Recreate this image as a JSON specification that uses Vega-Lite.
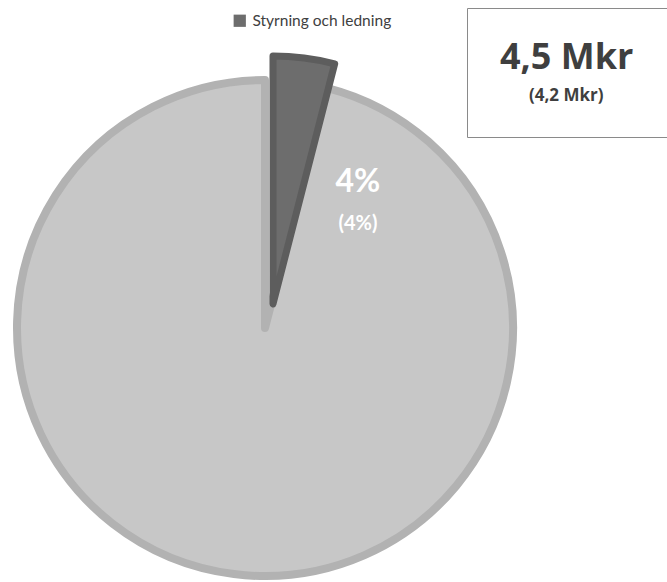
{
  "$schema": "https://vega.github.io/schema/vega-lite/v6.json",
  "autosize": {"type": "none"},
  "width": 530,
  "height": 504,
  "padding": {"left": 0, "top": 76, "right": 137, "bottom": 2},
  "background": "white",
  "config": {"view": {"stroke": null}, "font": "Lato"},
  "data": {
    "values": [
      {"kategori": "Styrning och ledning", "andel": 0.04, "andel_text": "4%", "andel_fg_text": "(4%)", "mkr_text": "4,5 Mkr", "mkr_fg_text": "(4,2 Mkr)"},
      {"kategori": "Övrig verksamhet", "andel": 0.96, "andel_text": null, "andel_fg_text": null, "mkr_text": null, "mkr_fg_text": null}
    ]
  },
  "transform": [
    {"stack": "andel", "groupby": [], "sort": [{"field": "kategori", "order": "ascending"}], "as": ["a0", "a1"]}
  ],
  "layer": [
    {
      "transform": [{"filter": "datum.kategori === 'Övrig verksamhet'"}],
      "mark": {"type": "arc", "radius": 248, "fill": "#c7c7c7", "stroke": "#b2b2b2", "strokeWidth": 8, "strokeJoin": "round"},
      "encoding": {
        "theta": {"field": "a0", "type": "quantitative", "scale": {"domain": [0, 1]}},
        "theta2": {"field": "a1"}
      }
    },
    {
      "transform": [{"filter": "datum.kategori === 'Styrning och ledning'"}],
      "mark": {"type": "arc", "radius": 248, "stroke": "#5d5d5d", "strokeWidth": 7, "strokeJoin": "round", "xOffset": 8, "yOffset": -24},
      "encoding": {
        "theta": {"field": "a0", "type": "quantitative", "scale": {"domain": [0, 1]}},
        "theta2": {"field": "a1"},
        "fill": {
          "field": "kategori", "type": "nominal",
          "scale": {"range": ["#6d6d6d"]},
          "legend": {
            "title": null, "orient": "none", "legendX": 232, "legendY": -63,
            "symbolType": "square", "symbolSize": 150, "symbolStrokeWidth": 0,
            "labelFont": "Lato", "labelFontSize": 15.5, "labelColor": "#404040", "labelOffset": 5
          }
        }
      }
    },
    {
      "transform": [{"filter": "datum.kategori === 'Styrning och ledning'"}],
      "mark": {"type": "text", "radius": 173, "thetaOffset": 0.567, "font": "Lato", "fontSize": 32, "fontWeight": "bold", "fill": "white", "align": "center", "baseline": "middle"},
      "encoding": {
        "theta": {"field": "a0", "type": "quantitative", "scale": {"domain": [0, 1]}},
        "text": {"field": "andel_text", "type": "nominal"},
        "opacity": {
          "field": "mkr_fg_text", "type": "ordinal",
          "scale": {"range": [1, 1]},
          "legend": {
            "title": "4,5 Mkr", "orient": "none", "legendX": 467, "legendY": -68,
            "titleFont": "Open Sans", "titleFontSize": 36, "titleFontWeight": "bold", "titleColor": "#3f3f3f", "titlePadding": 10,
            "labelFont": "Open Sans", "labelFontSize": 17, "labelFontWeight": "bold", "labelColor": "#3f3f3f", "labelOffset": 12,
            "symbolSize": 0, "symbolOpacity": 0, "symbolStrokeWidth": 0,
            "fillColor": "white", "strokeColor": "#8a8a8a", "padding": 33
          }
        }
      }
    },
    {
      "transform": [{"filter": "datum.kategori === 'Styrning och ledning'"}],
      "mark": {"type": "text", "radius": 173, "thetaOffset": 0.567, "dy": 42, "font": "Lato", "fontSize": 20, "fontWeight": "bold", "fill": "white", "align": "center", "baseline": "middle"},
      "encoding": {
        "theta": {"field": "a0", "type": "quantitative", "scale": {"domain": [0, 1]}},
        "text": {"field": "andel_fg_text", "type": "nominal"}
      }
    }
  ]
}
